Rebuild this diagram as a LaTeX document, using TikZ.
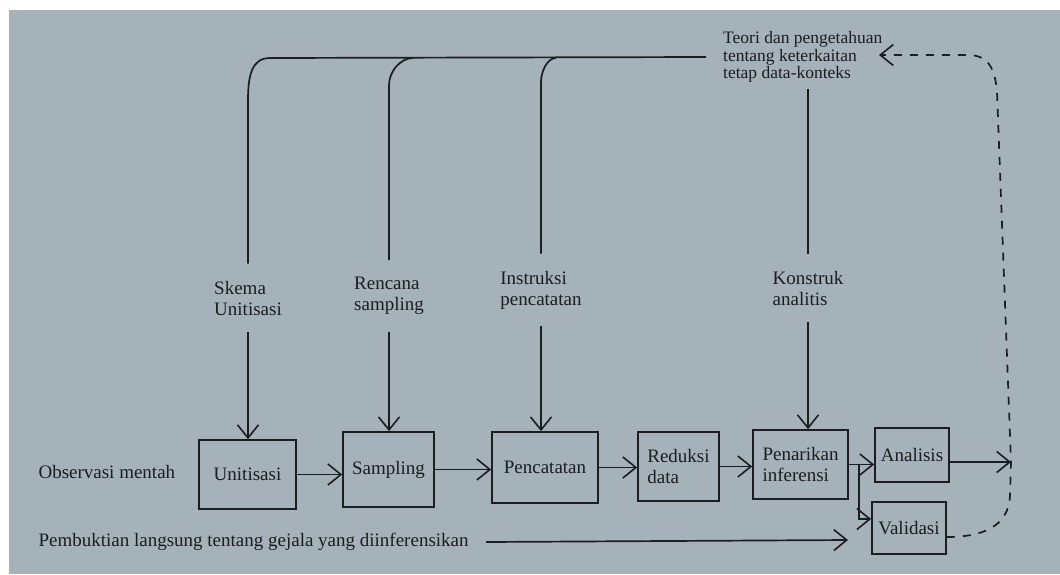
\documentclass[tikz,border=0pt]{standalone}
\usepackage{fontspec}
\setmainfont{Liberation Serif}
\usetikzlibrary{arrows.meta}
\definecolor{bg}{RGB}{165,178,185}
\definecolor{ink}{RGB}{28,29,32}
\begin{document}
\begin{tikzpicture}[x=1pt,y=-1pt,
  every node/.style={text=ink, font=\fontsize{19}{21}\selectfont},
  box/.style={draw=ink, line width=1.7pt, inner sep=0pt, align=left},
  lbl/.style={align=left, inner xsep=0pt, inner ysep=17pt},
  conn/.style={draw=ink, line width=1.7pt},
  tipv/.style={-{Straight Barb[length=13pt,width=21pt,line width=1.6pt]}},
  arr/.style={conn, tipv},
  dsh/.style={conn, dash pattern=on 8pt off 8pt}
]
\useasboundingbox (0,0) rectangle (1060,574);
\fill[white] (0,0) rectangle (1060,574);
\fill[bg] (9,10) rectangle (1060,574);

% boxes
\node[box, minimum width=97pt, minimum height=69pt] (unit) at (247.5,474.5) {Unitisasi};
\node[box, minimum width=91pt, minimum height=75pt] (samp) at (388.5,469.5) {Sampling};
\node[box, minimum width=106pt, minimum height=71pt] (penc) at (545,467.5) {Pencatatan};
\node[box, minimum width=81pt, minimum height=69pt] (redu) at (678.5,466.5) {Reduksi\\data};
\node[box, minimum width=95pt, minimum height=69pt] (pena) at (800.5,464.5) {Penarikan\\inferensi};
\node[box, minimum width=74pt, minimum height=54pt] (anal) at (912,455) {Analisis};
\node[box, minimum width=74pt, minimum height=52pt] (vali) at (909,528) {Validasi};

% texts
\node[anchor=west, align=left, inner sep=0pt, font=\fontsize{17.5}{17.5}\selectfont] (teori) at (723,57) {Teori dan pengetahuan\\tentang keterkaitan\\tetap data-konteks};
\node[lbl] (skema) at (248,298) {Skema\\Unitisasi};
\node[lbl] (rencana) at (389,296) {Rencana\\sampling};
\node[lbl] (instr) at (541,290) {Instruksi\\pencatatan};
\node[lbl] (konstruk) at (808,288) {Konstruk\\analitis};
\node[anchor=west] (obs) at (35,472) {Observasi mentah};
\node[anchor=west] (pemb) at (35,542) {Pembuktian langsung tentang gejala yang diinferensikan};

% coordinates
\coordinate (b2) at (413,58);
\coordinate (b3) at (556,58);
\coordinate (fb) at (1011,462);
\coordinate (tip) at (879,55);
\coordinate (pend) at (848,540);

% top distribution lines
\draw[conn] ([xshift=-17pt]teori.west) -- (270,58) .. controls (252,58) and (248,75) .. (248,100) -- (skema.north);
\draw[conn] (b2) .. controls (400,58) and (389,72) .. (389,85) -- (rencana.north);
\draw[conn] (b3) .. controls (547,58) and (541,72) .. (541,82) -- (instr.north);
\draw[conn, shorten <=6pt] (konstruk.north |- teori.south) -- (konstruk.north);

% arrows down into boxes
\draw[arr] (skema.south) -- (skema.south |- unit.north);
\draw[arr] (rencana.south) -- (rencana.south |- samp.north);
\draw[arr] (instr.south) -- (instr.south |- penc.north);
\draw[arr] (konstruk.south) -- (konstruk.south |- pena.north);

% flow
\draw[arr] (unit.east) -- (unit.east -| samp.west);
\draw[arr] (samp.east) -- (samp.east -| penc.west);
\draw[arr] (penc.east) -- (penc.east -| redu.west);
\draw[arr] (redu.east) -- (redu.east -| pena.west);
\draw[arr] (pena.east) -- (pena.east -| anal.west);
\draw[arr] ([xshift=10pt]pena.east) |- ([yshift=9pt]vali.west);
\draw[arr] ([yshift=-7pt]anal.east) -- (fb);
\draw[arr] ([xshift=14pt]pemb.east) -- (pend);

% dashed feedback
\draw[dsh, tipv] ([yshift=-9pt]vali.east) .. controls (980,537) and (1009,528) .. (1010,495) -- (fb) -- (997,92) .. controls (995,68) and (988,55) .. (968,55) -- (tip);
\end{tikzpicture}
\end{document}
